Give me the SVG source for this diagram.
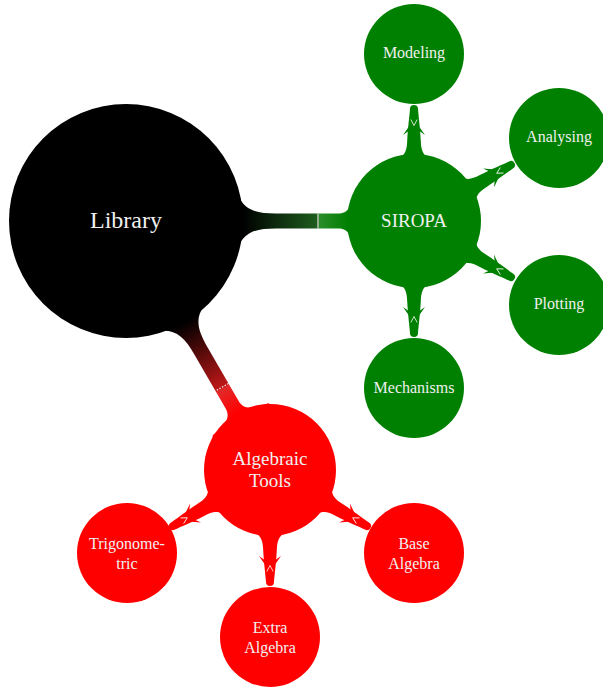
<svg xmlns="http://www.w3.org/2000/svg" xmlns:xlink="http://www.w3.org/1999/xlink" width="603" height="688" viewBox="0 0 603 688">
<style>
text{font-family:"Liberation Serif","DejaVu Serif",serif;fill:#f0f0f0;text-anchor:middle}
.t0{font-size:24px}
.t1{font-size:19px}
.t2{font-size:16px}
.g{fill:#008000}
.r{fill:#ff0000}
.k{fill:#000000}
.seam{stroke:#ffffff;stroke-width:1;fill:none}
.vee{stroke:#ffffff;stroke-width:0.8;fill:none}
</style>
<defs>
<linearGradient id="gradG" gradientUnits="userSpaceOnUse" x1="117" y1="0" x2="222" y2="0">
<stop offset="0" stop-color="#000000"/>
<stop offset="0.72" stop-color="#1e5e1e"/>
<stop offset="0.73" stop-color="#2a8c2a"/>
<stop offset="1" stop-color="#008000"/>
</linearGradient>
<linearGradient id="gradR" gradientUnits="userSpaceOnUse" x1="117" y1="0" x2="222" y2="0">
<stop offset="0" stop-color="#000000"/>
<stop offset="0.72" stop-color="#c01818"/>
<stop offset="0.73" stop-color="#e22a2a"/>
<stop offset="1" stop-color="#ff0000"/>
</linearGradient>
<path id="mainBar" d="M100,-55 L106,-48 C112,-14 122,-7.5 150,-7.5 L212,-7.5 C222,-7.5 226,-14 229,-32 L240,-40 L240,40 L229,32 C226,14 222,7.5 212,7.5 L150,7.5 C122,7.5 112,14 106,48 L100,55 Z"/>
<g id="childBar">
<path d="M58,-18 L62,-15 C67,-8.5 71,-7.2 80,-6.8 C95,-6 105,-4.5 112,-4 A4,4 0 0 1 112,4 C105,4.5 95,6 80,6.8 C71,7.2 67,8.5 62,15 L58,18 Z"/>
<path d="M96,-4 L86,-11 L91,-4 Z M96,4 L86,11 L91,4 Z"/>
<polyline class="vee" points="101.5,-3.2 95.5,0 101.5,3.2"/>
</g>
</defs>
<g id="connectors">
<g transform="translate(126,221)">
<use xlink:href="#mainBar" fill="url(#gradG)"/>
<line class="seam" x1="192" y1="-7.5" x2="192" y2="7.5"/>
</g>
<g transform="translate(126,221) rotate(60)">
<use xlink:href="#mainBar" fill="url(#gradR)"/>
<line class="seam" x1="192" y1="-7.5" x2="192" y2="7.5" stroke-dasharray="1.5,1.5"/>
</g>
<g class="g">
<use xlink:href="#childBar" transform="translate(414,221) rotate(-90)"/>
<use xlink:href="#childBar" transform="translate(414,221) rotate(-30)"/>
<use xlink:href="#childBar" transform="translate(414,221) rotate(30)"/>
<use xlink:href="#childBar" transform="translate(414,221) rotate(90)"/>
</g>
<g class="r">
<use xlink:href="#childBar" transform="translate(270,470) rotate(150)"/>
<use xlink:href="#childBar" transform="translate(270,470) rotate(90)"/>
<use xlink:href="#childBar" transform="translate(270,470) rotate(30)"/>
</g>
</g>
<g id="library">
<circle class="k" cx="126" cy="221" r="117"/>
<text class="t0" x="126" y="228">Library</text>
</g>
<g id="siropa">
<circle class="g" cx="414" cy="221" r="67"/>
<text class="t1" x="414" y="227">SIROPA</text>
</g>
<g id="modeling">
<circle class="g" cx="414" cy="54" r="50"/>
<text class="t2" x="414" y="58">Modeling</text>
</g>
<g id="analysing">
<circle class="g" cx="559" cy="138" r="50"/>
<text class="t2" x="559" y="142">Analysing</text>
</g>
<g id="plotting">
<circle class="g" cx="559" cy="305" r="50"/>
<text class="t2" x="559" y="309">Plotting</text>
</g>
<g id="mechanisms">
<circle class="g" cx="414" cy="388" r="50"/>
<text class="t2" x="414" y="393">Mechanisms</text>
</g>
<g id="algebraic-tools">
<circle class="r" cx="270" cy="470" r="66"/>
<text class="t1" x="270" y="465">Algebraic</text>
<text class="t1" x="270" y="487">Tools</text>
</g>
<g id="trigonometric">
<circle class="r" cx="127" cy="553" r="50"/>
<text class="t2" x="127" y="549">Trigonome-</text>
<text class="t2" x="127" y="569">tric</text>
</g>
<g id="extra-algebra">
<circle class="r" cx="270" cy="637" r="50"/>
<text class="t2" x="270" y="633">Extra</text>
<text class="t2" x="270" y="653">Algebra</text>
</g>
<g id="base-algebra">
<circle class="r" cx="414" cy="553" r="50"/>
<text class="t2" x="414" y="549">Base</text>
<text class="t2" x="414" y="569">Algebra</text>
</g>
</svg>
